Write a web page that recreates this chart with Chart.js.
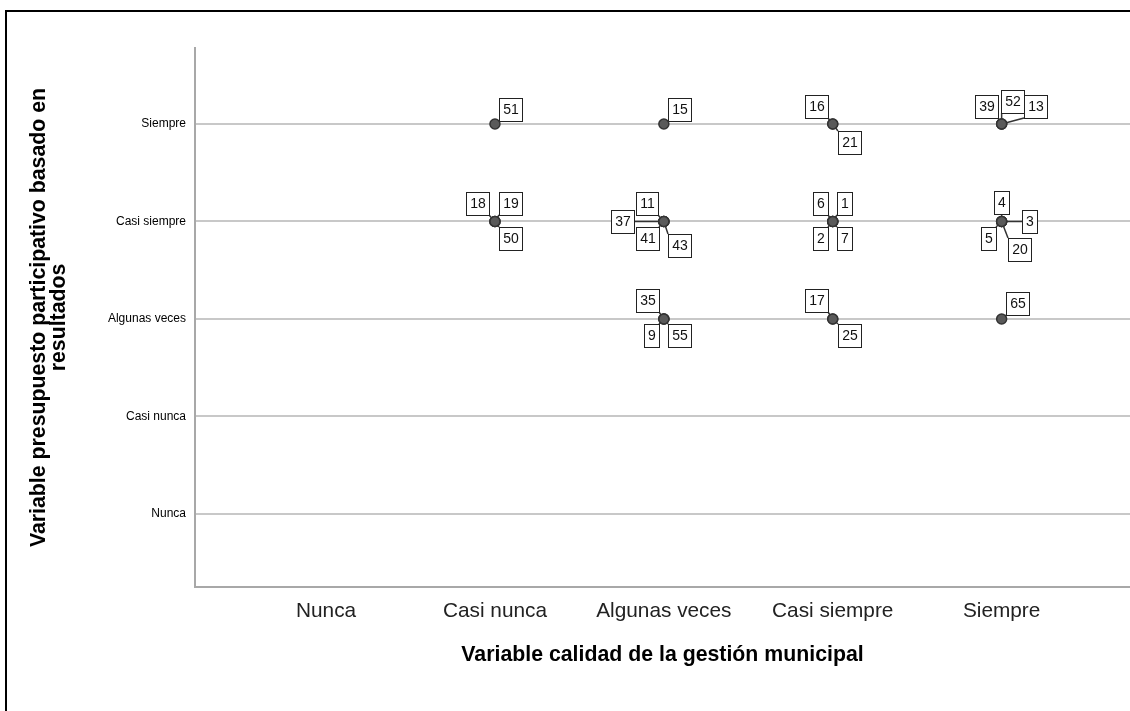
<!DOCTYPE html>
<html>
<head>
<meta charset="utf-8">
<script src="https://cdn.jsdelivr.net/npm/chart.js@4"></script>
<style>
  html, body { margin: 0; padding: 0; background: #fff; overflow: hidden; }
</style>
</head>
<body>
<canvas id="chart" width="1130" height="711"></canvas>
<script>
const categories = ["Nunca", "Casi nunca", "Algunas veces", "Casi siempre", "Siempre"];
// one entry per case: 1 = Nunca ... 5 = Siempre
const gestion     = [2, 2, 2, 2, 3, 3, 3, 3, 3, 3, 3, 3, 4, 4, 4, 4, 4, 4, 4, 4, 5, 5, 5, 5, 5, 5, 5, 5];
const presupuesto = [5, 4, 4, 4, 5, 4, 4, 4, 4, 3, 3, 3, 5, 5, 4, 4, 4, 4, 3, 3, 5, 5, 5, 4, 4, 4, 4, 3];
const casos       = ["51", "18", "19", "50", "15", "11", "37", "41", "43", "35", "9", "55", "16", "21",
                     "6", "1", "2", "7", "17", "25", "39", "52", "13", "4", "3", "5", "20", "65"];

// where each case label sits relative to its point, in px
const labelOffsets = [[16,-15],[-17,-18],[16,-18],[16,17],[16,-15],[-16.5,-18],[-41,0],[-16.5,17],[16,24],
                      [-16.5,-18],[-12.5,17],[16,17],[-16,-18],[16.5,18],[-12,-18],[12,-18],[-12,17],[12,17],
                      [-16,-18],[17,17],[-15.5,-18],[10.5,-23],[34,-18],[0,-19],[28,0],[-13,17.5],[17.5,28],[16,-15]];

const FONT = "'Liberation Sans', Arial, sans-serif";

const frame = {
  id: "frame",
  beforeDraw(chart) {
    const ctx = chart.ctx;
    ctx.save();
    ctx.fillStyle = "#fff";
    ctx.fillRect(0, 0, chart.width, chart.height);
    ctx.strokeStyle = "#000";
    ctx.lineWidth = 2;
    ctx.strokeRect(6, 11, chart.width + 20, chart.height + 20);
    ctx.restore();
  }
};

const caseLabels = {
  id: "caseLabels",
  beforeDatasetsDraw(chart) {
    const { ctx, scales: { x, y } } = chart;
    ctx.save();
    ctx.font = "14px " + FONT;
    ctx.textAlign = "center";
    ctx.textBaseline = "middle";
    casos.forEach((txt, i) => {
      const px = x.getPixelForValue(gestion[i]);
      const py = y.getPixelForValue(presupuesto[i]);
      const cx = px + labelOffsets[i][0];
      const cy = py + labelOffsets[i][1];
      const w = Math.round(ctx.measureText(txt).width + 7);
      const h = 23;
      const l = Math.round(cx - w / 2), t = Math.round(cy - h / 2);
      // leader line to the closest point of the box
      const nx = Math.max(l, Math.min(px, l + w));
      const ny = Math.max(t, Math.min(py, t + h));
      ctx.strokeStyle = "#333";
      ctx.lineWidth = 1.5;
      ctx.beginPath();
      ctx.moveTo(px, py);
      ctx.lineTo(nx, ny);
      ctx.stroke();
      ctx.fillStyle = "#fff";
      ctx.fillRect(l, t, w, h);
      ctx.strokeStyle = "#222";
      ctx.lineWidth = 1;
      ctx.strokeRect(l + 0.5, t + 0.5, w, h);
      ctx.fillStyle = "#111";
      ctx.fillText(txt, l + w / 2 + 0.5, t + h / 2 + 1);
    });
    ctx.restore();
  }
};

new Chart(document.getElementById("chart"), {
  type: "scatter",
  data: {
    datasets: [{
      data: gestion.map((g, i) => ({ x: g, y: presupuesto[i] })),
      pointRadius: 5,
      pointBackgroundColor: "#5a5a5a",
      pointBorderColor: "#333",
      pointBorderWidth: 1.5
    }]
  },
  options: {
    responsive: false,
    animation: false,
    layout: { autoPadding: false, padding: { left: 0, right: 0, top: 48, bottom: 0 } },
    plugins: { legend: { display: false }, tooltip: { enabled: false } },
    scales: {
      x: {
        type: "linear",
        min: 0.224,
        max: 5.76,
        afterBuildTicks: s => { s.ticks = categories.map((c, i) => ({ value: i + 1 })); },
        afterFit: s => { s.height = 124; },
        grid: { display: false, drawTicks: false },
        border: { color: "#a8a8a8", width: 2 },
        ticks: {
          callback: v => categories[v - 1],
          font: { family: FONT, size: 20.8 },
          color: "#222",
          padding: 12,
          autoSkip: false,
          maxRotation: 0
        },
        title: {
          display: true,
          text: "Variable calidad de la gestión municipal",
          font: { family: FONT, size: 21.3, weight: "bold" },
          color: "#000",
          padding: { top: 0, bottom: 43 }
        }
      },
      y: {
        type: "linear",
        min: 0.25,
        max: 5.78,
        afterBuildTicks: s => { s.ticks = categories.map((c, i) => ({ value: i + 1 })); },
        afterFit: s => { s.width = 195; },
        grid: { color: "#c8c8c8", lineWidth: 2, drawTicks: false },
        border: { color: "#a8a8a8", width: 2 },
        ticks: {
          callback: v => categories[v - 1],
          font: { family: FONT, size: 12 },
          color: "#000",
          padding: 9
        },
        title: {
          display: true,
          text: ["Variable presupuesto participativo basado en", "resultados"],
          font: { family: FONT, size: 21.3, weight: "bold", lineHeight: "20px" },
          color: "#000",
          padding: { top: 29, bottom: 0 }
        }
      }
    }
  },
  plugins: [frame, caseLabels]
});
</script>
</body>
</html>
